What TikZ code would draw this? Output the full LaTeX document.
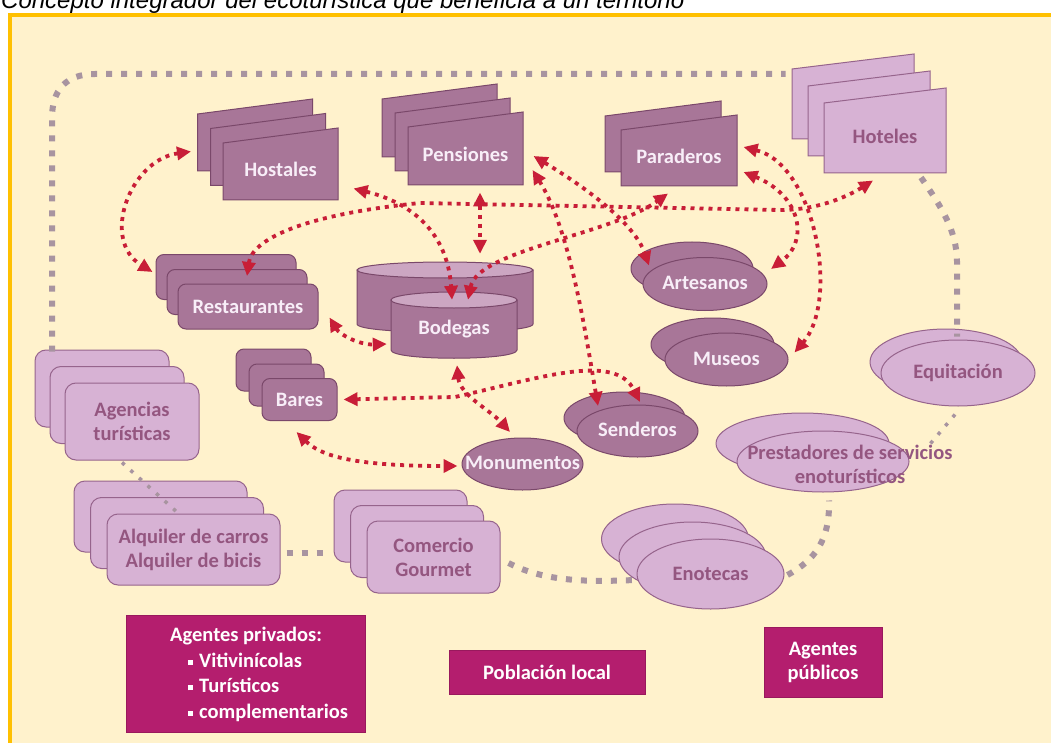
\documentclass[tikz,border=0pt]{standalone}
\usepackage{fontspec}
\setmainfont{Carlito}
\newfontfamily\arialfont{Liberation Sans}
\usepackage{tikz}
\usetikzlibrary{shapes.geometric,arrows.meta,positioning}
\definecolor{mycream}{RGB}{255,242,204}
\definecolor{myorange}{RGB}{255,192,0}
\definecolor{mymauve}{RGB}{168,118,152}
\definecolor{mymauveline}{RGB}{122,72,106}
\definecolor{mymauvetop}{RGB}{204,166,194}
\definecolor{mylilac}{RGB}{215,178,212}
\definecolor{mylilacline}{RGB}{150,100,140}
\definecolor{mylilactext}{RGB}{148,86,128}
\definecolor{mypale}{RGB}{248,238,248}
\definecolor{mymagenta}{RGB}{180,30,110}
\definecolor{myred}{RGB}{200,30,55}
\definecolor{mygrey}{RGB}{168,148,160}
\newcommand{\etiq}{\bfseries\fontsize{20.5}{24}\selectfont}
\tikzstyle{pgdark}=[fill=mymauve,draw=mymauveline,line width=1pt,text=mypale]
\tikzstyle{pglight}=[fill=mylilac,draw=mylilacline,line width=1pt,text=mylilactext]
\tikzstyle{hojatext}=[rectangle,inner sep=0pt,font=\etiq,text height=14pt,text depth=3pt]
\tikzstyle{cajadark}=[rectangle,rounded corners=8pt,inner sep=0pt,align=center,font=\etiq,pgdark]
\tikzstyle{cajalight}=[cajadark,pglight]
\tikzstyle{ovaldark}=[ellipse,inner sep=0pt,pgdark]
\tikzstyle{ovallight}=[ellipse,inner sep=0pt,pglight]
\tikzstyle{etiqdark}=[font=\etiq,text=mypale,align=center,inner sep=0pt,text height=14pt,text depth=3pt]
\tikzstyle{etiqlight}=[font=\etiq,text=mylilactext,align=center,inner sep=0pt]
\tikzstyle{agente}=[rectangle,fill=mymagenta,draw=mymagenta!85!black,line width=0.6pt,inner sep=0pt,font=\etiq,text=white,align=center]
\tikzstyle{rojo}=[<->,draw=myred,line width=3.8pt,dash pattern=on 4pt off 5pt]
\tikzstyle{gris}=[draw=mygrey,line width=6pt,dash pattern=on 6pt off 9pt]
\tikzstyle{grisfino}=[draw=mygrey,line width=3.5pt,dash pattern=on 3.5pt off 8pt]
\tikzstyle{cilindro}=[fill=mymauve,draw=mymauveline,line width=1pt]
\tikzstyle{tapa}=[fill=mymauvetop,draw=mymauveline,line width=1pt]
\newcommand{\hoja}[6]{%
  \filldraw[#5] ([shift={(-#3/2,#4/2)}]#2) -- ++(0,-#4) -- ++(#3,-15) -- ++(0,#4+15) -- cycle;
  \draw (#2) node[hojatext,#5,draw=none,fill=none,minimum width=#3pt,minimum height=#4pt] (#1) {#6};}
\newcommand{\barrica}[6]{%
  \filldraw[cilindro] (#2-#4,#3) -- (#2-#4,#3+#5) .. controls (#2-#4,#3+#5+11) and (#2+#4,#3+#5+11) .. (#2+#4,#3+#5) -- (#2+#4,#3) -- cycle;
  \filldraw[tapa] (#2,#3) ellipse [x radius=#4, y radius=8];
  \draw (#2,#3+#5/2+4) node[hojatext,text=mypale,minimum width=2*#4pt,minimum height=#5pt+8pt] (#1) {#6};}
\begin{document}
\begin{tikzpicture}[x=1pt,y=-1pt,>={Triangle[length=14pt,width=13pt]}]
\useasboundingbox (0,0) rectangle (1051,743);
\fill[white] (0,0) rectangle (1051,743);
\filldraw[fill=mycream,draw=myorange,line width=4pt] (10,15) rectangle (1070,770);
\draw (1,9) node[anchor=base west,inner sep=0pt,font=\arialfont\itshape\fontsize{24}{28}\selectfont] (titulo) {Concepto integrador del ecoturística que beneficia a un territorio};

\hoja{hosC}{255,142.5}{115}{57}{pgdark}{}
\hoja{hosB}{268,157}{115}{57}{pgdark}{}
\hoja{hos}{280.5,171.5}{115}{57}{pgdark}{Hostales}
\hoja{penC}{439.5,128}{115}{58}{pgdark}{}
\hoja{penB}{452.5,142}{115}{58}{pgdark}{}
\hoja{pen}{465.5,156}{115}{58}{pgdark}{Pensiones}
\hoja{parB}{663,144}{116}{56}{pgdark}{}
\hoja{par}{679,158}{116}{56}{pgdark}{Paraderos}
\hoja{hotC}{853,104}{122}{70}{pglight}{}
\hoja{hotB}{869,121}{122}{70}{pglight}{}
\hoja{hot}{885,138}{122}{70}{pglight}{Hoteles}

\draw (226,277) node[cajadark,minimum width=140pt,minimum height=45pt] (resA) {};
\draw (237,292) node[cajadark,minimum width=140pt,minimum height=45pt] (resB) {};
\draw (248,306.5) node[cajadark,minimum width=140pt,minimum height=45pt] (res) {Restaurantes};
\draw (273.5,370) node[cajadark,minimum width=75pt,minimum height=42pt] (barA) {};
\draw (286.5,385) node[cajadark,minimum width=75pt,minimum height=42pt] (barB) {};
\draw (299.5,399.5) node[cajadark,minimum width=75pt,minimum height=42pt] (bar) {Bares};
\draw (102,388.5) node[cajalight,rounded corners=11pt,minimum width=134pt,minimum height=77pt] (agA) {};
\draw (117,405) node[cajalight,rounded corners=11pt,minimum width=134pt,minimum height=77pt] (agB) {};
\draw (132,421.5) node[cajalight,rounded corners=11pt,minimum width=134pt,minimum height=77pt] (ag) {Agencias\\turísticas};
\draw (160.5,516.5) node[cajalight,rounded corners=11pt,minimum width=173pt,minimum height=71pt] (alA) {};
\draw (177,533) node[cajalight,rounded corners=11pt,minimum width=173pt,minimum height=71pt] (alB) {};
\draw (193.5,549.5) node[cajalight,rounded corners=11pt,minimum width=173pt,minimum height=71pt] (al) {Alquiler de carros\\Alquiler de bicis};
\draw (400.5,526) node[cajalight,rounded corners=11pt,minimum width=133pt,minimum height=72pt] (comA) {};
\draw (417,541.5) node[cajalight,rounded corners=11pt,minimum width=133pt,minimum height=72pt] (comB) {};
\draw (433.5,557) node[cajalight,rounded corners=11pt,minimum width=133pt,minimum height=72pt] (com) {Comercio\\Gourmet};

\barrica{bodB}{445}{270}{88}{54}{}
\barrica{bod}{454}{300}{63}{50}{Bodegas}

\draw (692,268.5) node[ovaldark,minimum width=122pt,minimum height=53pt] (artB) {};
\draw (705,284) node[ovaldark,minimum width=124pt,minimum height=53pt,label={[etiqdark]center:Artesanos}] (art) {};
\draw (712.5,344.5) node[ovaldark,minimum width=123pt,minimum height=53pt] (musB) {};
\draw (726.5,359.5) node[ovaldark,minimum width=123pt,minimum height=53pt,label={[etiqdark]center:Museos}] (mus) {};
\draw (624.5,418) node[ovaldark,minimum width=121pt,minimum height=52pt] (senB) {};
\draw (637.5,431) node[ovaldark,minimum width=121pt,minimum height=52pt,label={[etiqdark]center:Senderos}] (sen) {};
\draw (522.5,464) node[ovaldark,minimum width=121pt,minimum height=52pt,label={[etiqdark]center:Monumentos}] (mon) {};
\draw (946,362) node[ovallight,minimum width=152pt,minimum height=66pt] (equB) {};
\draw (958,373) node[ovallight,minimum width=154pt,minimum height=66pt,label={[etiqlight]center:Equitación}] (equ) {};
\draw (802.5,443.5) node[ovallight,minimum width=173pt,minimum height=61pt] (preB) {};
\draw (823,461.5) node[ovallight,minimum width=172pt,minimum height=61pt,label={[etiqlight,xshift=27pt,yshift=-3pt]center:Prestadores de servicios\\enoturísticos}] (pre) {};
\draw (675,539) node[ovallight,minimum width=147pt,minimum height=70pt] (enoA) {};
\draw (692.5,557) node[ovallight,minimum width=147pt,minimum height=70pt] (enoB) {};
\draw (710.5,574) node[ovallight,minimum width=147pt,minimum height=70pt,label={[etiqlight]center:Enotecas}] (eno) {};

\draw (245.5,673.5) node[agente,minimum width=239pt,minimum height=117pt] (priv) {};
\draw (170,674.5) node[anchor=west,inner sep=0pt,align=left,text=white,font=\bfseries\fontsize{20.5}{25.5}\selectfont] (privT) {Agentes privados:\\\hspace*{18pt}\rule[2.5pt]{5pt}{5pt}\hspace{6pt}Vitivinícolas\\\hspace*{18pt}\rule[2.5pt]{5pt}{5pt}\hspace{6pt}Turísticos\\\hspace*{18pt}\rule[2.5pt]{5pt}{5pt}\hspace{6pt}complementarios};
\draw (547,672) node[agente,minimum width=196pt,minimum height=44pt] (pob) {Población local};
\draw (823,662.5) node[agente,minimum width=118pt,minimum height=70pt] (pub) {Agentes\\públicos};

\draw[gris] ([shift={(-50,2)}]agA.north) -- (52,118) .. controls (52,90) and (66,74) .. (95,74) -- ([shift={(-6,5.5)}]hotC.north west);
\draw[grisfino] ([shift={(-10,2)}]ag.south) -- ([shift={(-15,0)}]al.north);
\draw[gris] ([shift={(6,3)}]al.east) -- ([shift={(-9,26.5)}]comA.west);
\draw[gris] ([shift={(8,6)}]com.east) .. controls (545,582) and (590,582) .. ([shift={(-2,6)}]eno.west);
\draw[gris] ([shift={(3,1)}]eno.east) .. controls (815,560) and (830,540) .. ([shift={(6,8)}]pre.south);
\draw[grisfino] ([shift={(21,-18)}]pre.east) -- ([shift={(-3,8)}]equ.south);
\draw[gris] ([shift={(36,4)}]hot.south) .. controls (940,205) and (957,230) .. (957,262) -- ([shift={(11,8)}]equB.north);

\draw[rojo] ([shift={(-6,9)}]hosC.west) .. controls (130,160) and (100,240) .. ([shift={(-3,-5)}]resA.west);
\draw[rojo] ([shift={(15,-12)}]hos.south east) .. controls (420,205) and (448,240) .. ([shift={(-2,0)}]bod.north);
\draw[rojo] ([shift={(14.5,7)}]pen.south) -- ([shift={(35,-16)}]bodB.north);
\draw[rojo] ([shift={(10,0)}]pen.east) .. controls (590,190) and (635,225) .. ([shift={(-43,-3)}]artB.center);
\draw[rojo] ([shift={(9,14)}]pen.east) .. controls (570,230) and (585,330) .. ([shift={(-26.5,-12)}]senB.center);
\draw[rojo] ([shift={(14,0)}]bod.north) .. controls (478,250) and (610,235) .. ([shift={(-11,7)}]par.south);
\draw[rojo] ([shift={(6,14)}]par.east) .. controls (800,195) and (810,240) .. ([shift={(66,-15)}]art.center);
\draw[rojo] ([shift={(6,-11)}]par.east) .. controls (815,165) and (840,300) .. ([shift={(68,-7)}]mus.center);
\draw[rojo] ([shift={(10,7)}]resB.north) .. controls (252,240) and (300,215) .. (420,203) -- (780,210) .. controls (820,210) and (850,195) .. ([shift={(-12,7)}]hot.south);
\draw[rojo] ([shift={(11,11)}]res.east) .. controls (340,335) and (360,345) .. ([shift={(-4,15)}]bod.west);
\draw[rojo] ([shift={(3,7)}]bod.south) .. controls (460,395) and (490,410) .. ([shift={(-12.5,-32)}]mon.center);
\draw[rojo] ([shift={(6,0)}]bar.east) -- (455,397) .. controls (540,378) and (615,352) .. ([shift={(15.5,-16)}]senB.center);
\draw[rojo] ([shift={(-3,11)}]bar.south) .. controls (320,455) and (350,466) .. ([shift={(-4,2)}]mon.west);
\end{tikzpicture}
\end{document}
